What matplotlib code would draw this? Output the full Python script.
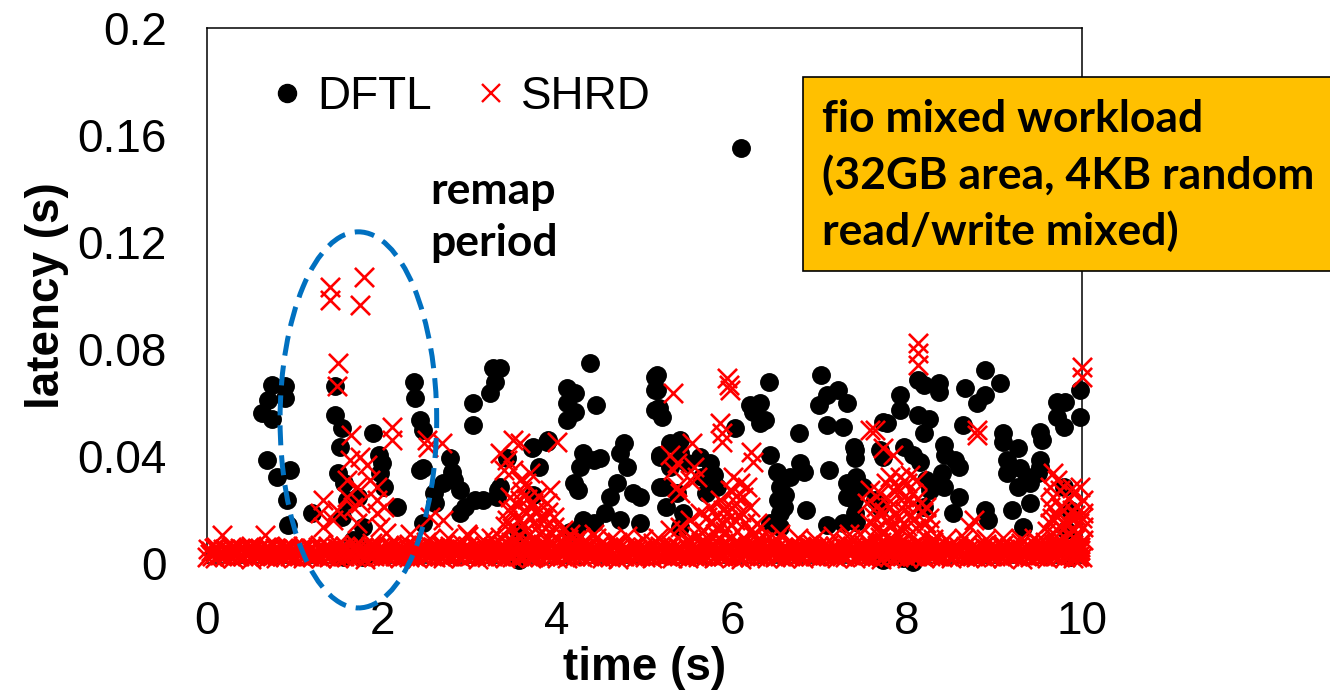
import matplotlib
matplotlib.use('Agg')
import matplotlib.pyplot as plt
from matplotlib.patches import Ellipse, Rectangle
from matplotlib.lines import Line2D

# ---------------- data ----------------
x_ticks = [0, 2, 4, 6, 8, 10]
x_tick_labels = ['0', '2', '4', '6', '8', '10']
y_ticks = [0, 0.04, 0.08, 0.12, 0.16, 0.2]
y_tick_labels = ['0', '0.04', '0.08', '0.12', '0.16', '0.2']

dftl_t = [
    0.74, 0.89, 0.70, 0.89, 0.63, 0.74, 0.68, 0.80, 0.95, 0.91, 0.93, 1.20,
    1.46, 1.46, 1.54, 1.52, 1.50, 1.56, 1.60, 1.90, 1.96, 2.00, 1.98, 2.02, 2.17, 1.54, 1.73, 1.78,
    1.67, 1.71, 1.71, 1.56, 1.78, 1.82, 2.36, 2.38, 2.43, 2.47, 2.43, 2.47, 2.47,
    2.78, 2.80, 2.82, 2.89, 3.06, 2.59, 2.61, 2.89, 2.70, 2.95, 3.15, 3.43, 3.33, 3.35, 3.31,
    3.27, 3.35, 3.29, 3.23, 3.04, 3.04, 3.55, 3.56, 3.56, 3.56,
    3.71, 3.73, 3.79, 3.88, 3.90, 3.73, 4.38, 4.11, 4.21, 4.11, 4.21, 4.11, 4.45,
    5.12, 5.12, 5.12, 4.30, 4.26, 4.42, 4.49, 4.76, 4.72, 4.80, 4.19, 4.24, 4.68,
    4.61, 4.87, 4.95, 5.18, 5.18, 4.30, 4.22, 4.42, 4.55, 4.72, 4.95, 4.15,
    5.14, 5.14, 5.16, 5.20, 6.42, 6.21, 6.32, 6.38, 6.24, 6.32, 6.03, 5.18, 5.29,
    5.41, 5.41, 5.29, 5.48, 5.21, 5.37, 5.25, 5.44, 5.63, 5.75, 5.79, 5.83, 5.66,
    5.70, 5.41, 6.43, 6.51, 6.55, 6.66, 6.78, 6.82, 6.53, 6.61, 6.59, 6.55, 6.85,
    6.43, 6.55, 6.10,
    7.02, 7.08, 7.21, 7.31, 6.99, 7.08, 7.27, 6.76, 7.73, 7.11, 7.41, 7.41, 7.39,
    7.31, 7.42, 7.50, 7.31, 7.42, 7.39, 7.40, 7.08, 7.27, 7.42, 7.69, 7.73,
    7.92, 7.92, 8.13, 8.19, 8.36, 8.36, 7.77, 8.13, 8.25, 8.19, 8.89, 8.66, 9.06,
    8.89, 8.80, 8.64, 7.96, 8.07, 8.15, 8.42, 8.43, 8.55, 8.59, 8.40, 8.42, 8.26,
    8.25, 8.22, 8.59, 8.53, 9.10, 9.10, 9.27, 9.14, 9.14, 9.29, 9.37, 9.27, 9.41,
    9.41, 9.20, 9.33, 8.89, 8.93, 9.52, 9.54, 9.52, 9.52, 9.50, 9.71, 9.81, 9.71,
    9.79, 9.98, 9.98, 9.79, 9.86, 9.82, 9.86, 8.19, 7.63, 7.69, 7.73, 8.07, 7.95,
]
dftl_lat = [
    0.0666, 0.0660, 0.0610, 0.0617, 0.0560, 0.0540, 0.0385, 0.0320, 0.0348, 0.0236, 0.0142, 0.0187,
    0.0660, 0.0553, 0.0505, 0.0435, 0.0336, 0.0300, 0.0236, 0.0486, 0.0404, 0.0374, 0.0336, 0.0285, 0.0210, 0.0173, 0.0247, 0.0135,
    0.0086, 0.0060, 0.0037, 0.0022, 0.0022, 0.0030, 0.0678, 0.0616, 0.0535, 0.0497, 0.0348, 0.0354, 0.0150,
    0.0391, 0.0341, 0.0310, 0.0273, 0.0236, 0.0260, 0.0223, 0.0186, 0.0298, 0.0210, 0.0236, 0.0391, 0.0273, 0.0285, 0.0248,
    0.0728, 0.0728, 0.0678, 0.0634, 0.0597, 0.0516, 0.0120, 0.0080, 0.0040, 0.0010,
    0.0429, 0.0435, 0.0360, 0.0454, 0.0460, 0.0254, 0.0747, 0.0653, 0.0634, 0.0597, 0.0566, 0.0535, 0.0590,
    0.0697, 0.0647, 0.0572, 0.0410, 0.0360, 0.0385, 0.0391, 0.0448, 0.0410, 0.0360, 0.0298, 0.0273, 0.0298,
    0.0248, 0.0260, 0.0248, 0.0397, 0.0285, 0.0161, 0.0123, 0.0148, 0.0186, 0.0161, 0.0148, 0.0117,
    0.0703, 0.0647, 0.0578, 0.0547, 0.0678, 0.0590, 0.0597, 0.0535, 0.0566, 0.0522, 0.0504, 0.0404, 0.0448,
    0.0460, 0.0410, 0.0360, 0.0373, 0.0285, 0.0260, 0.0210, 0.0186, 0.0397, 0.0373, 0.0330, 0.0285, 0.0323,
    0.0260, 0.0136, 0.0404, 0.0341, 0.0285, 0.0323, 0.0373, 0.0341, 0.0236, 0.0254, 0.0210, 0.0186, 0.0198,
    0.0148, 0.0136, 0.1550,
    0.0703, 0.0628, 0.0647, 0.0597, 0.0590, 0.0516, 0.0510, 0.0485, 0.0528, 0.0348, 0.0422, 0.0391, 0.0435,
    0.0298, 0.0323, 0.0285, 0.0248, 0.0260, 0.0236, 0.0186, 0.0142, 0.0148, 0.0154, 0.0422, 0.0397,
    0.0628, 0.0572, 0.0684, 0.0665, 0.0672, 0.0640, 0.0522, 0.0553, 0.0540, 0.0485, 0.0721, 0.0653, 0.0672,
    0.0628, 0.0597, 0.0516, 0.0435, 0.0404, 0.0379, 0.0441, 0.0404, 0.0385, 0.0360, 0.0335, 0.0285, 0.0273,
    0.0298, 0.0310, 0.0248, 0.0186, 0.0485, 0.0454, 0.0429, 0.0385, 0.0335, 0.0354, 0.0323, 0.0285, 0.0298,
    0.0223, 0.0198, 0.0136, 0.0198, 0.0161, 0.0491, 0.0460, 0.0385, 0.0360, 0.0335, 0.0603, 0.0603, 0.0547,
    0.0510, 0.0647, 0.0547, 0.0285, 0.0198, 0.0123, 0.0024, 0.0210, 0.0236, 0.0210, 0.0010, 0.0005, 0.0020,
]

# SHRD points above the dense bottom band
shrd_t = [
    1.41, 1.41, 1.79, 1.75, 1.50, 1.48, 1.65, 2.11, 2.11, 2.53, 1.63, 1.75, 1.83,
    1.60, 1.71, 1.86, 1.94, 1.33, 1.60, 1.75, 1.94, 1.29, 1.48, 1.67, 1.94, 2.02,
    1.33, 1.44, 1.71, 1.98, 2.05, 1.60, 0.17, 0.66, 2.32,
    2.68, 2.51, 2.55, 2.70, 2.97,
    3.50, 3.58, 4.00, 3.35, 3.43, 3.39, 3.50, 3.58, 3.69, 3.65, 3.92, 3.46, 3.58,
    3.73, 3.88, 3.50, 3.65, 3.81, 3.96, 3.43, 3.61, 3.77, 3.96, 4.07, 3.69, 3.88,
    4.15, 4.26, 4.42, 3.35, 3.73,
    5.33, 5.94, 5.96, 5.98, 5.86, 5.88, 5.88, 5.54, 6.22, 6.24, 5.29, 5.37, 5.33,
    5.57, 5.60, 5.52, 5.37, 5.41, 6.01, 6.09, 5.98, 6.17, 6.13, 5.86, 5.75, 5.90,
    6.05, 6.21, 6.28, 6.32, 5.63, 5.71, 5.52, 5.41, 5.29, 5.94, 6.09, 5.83, 6.40, 6.55,
    7.58, 7.73, 7.84, 7.81, 7.92, 8.03, 8.11, 7.58, 7.69, 7.84, 7.96, 8.07, 7.54,
    7.65, 7.81, 7.96, 8.11, 8.22, 7.62, 7.77, 7.92, 8.07, 8.22, 7.46, 7.69, 7.88,
    8.03, 8.26, 7.96, 8.03, 7.34, 8.13, 8.13, 8.13, 8.80, 8.80, 8.76, 8.72, 7.63,
    9.67, 9.71, 9.63, 9.75, 9.67, 9.63, 9.75, 9.71, 9.63, 9.98, 9.90, 10.01, 9.94,
    10.01, 9.90, 10.01, 9.94, 10.01, 9.90, 9.98, 9.94, 9.79, 9.79, 9.82, 10.00, 10.00,
]
shrd_lat = [
    0.1033, 0.0983, 0.1068, 0.0964, 0.0747, 0.0660, 0.0478, 0.0510, 0.0460, 0.0435, 0.0385, 0.0397, 0.0366,
    0.0310, 0.0285, 0.0310, 0.0285, 0.0236, 0.0248, 0.0223, 0.0236, 0.0186, 0.0198, 0.0210, 0.0186, 0.0210,
    0.0136, 0.0161, 0.0148, 0.0136, 0.0111, 0.0036, 0.0105, 0.0105, 0.0110,
    0.0448, 0.0460, 0.0173, 0.0161, 0.0110,
    0.0460, 0.0448, 0.0454, 0.0410, 0.0385, 0.0348, 0.0348, 0.0310, 0.0335, 0.0298, 0.0273, 0.0248, 0.0236,
    0.0223, 0.0223, 0.0198, 0.0186, 0.0173, 0.0173, 0.0161, 0.0148, 0.0136, 0.0136, 0.0123, 0.0110, 0.0098,
    0.0110, 0.0098, 0.0110, 0.0098, 0.0024,
    0.0634, 0.0690, 0.0665, 0.0647, 0.0522, 0.0485, 0.0454, 0.0448, 0.0416, 0.0379, 0.0404, 0.0373, 0.0348,
    0.0360, 0.0323, 0.0310, 0.0285, 0.0260, 0.0323, 0.0298, 0.0273, 0.0285, 0.0248, 0.0236, 0.0210, 0.0198,
    0.0223, 0.0210, 0.0149, 0.0136, 0.0186, 0.0173, 0.0161, 0.0136, 0.0123, 0.0161, 0.0173, 0.0136, 0.0086, 0.0110,
    0.0497, 0.0429, 0.0404, 0.0323, 0.0323, 0.0329, 0.0310, 0.0273, 0.0260, 0.0273, 0.0248, 0.0260, 0.0223,
    0.0210, 0.0210, 0.0198, 0.0210, 0.0210, 0.0173, 0.0161, 0.0161, 0.0161, 0.0148, 0.0110, 0.0098, 0.0110,
    0.0110, 0.0123, 0.0049, 0.0036, 0.0110, 0.0821, 0.0784, 0.0740, 0.0497, 0.0478, 0.0161, 0.0136, 0.0497,
    0.0335, 0.0310, 0.0285, 0.0273, 0.0248, 0.0210, 0.0210, 0.0173, 0.0148, 0.0285, 0.0260, 0.0236, 0.0210,
    0.0186, 0.0161, 0.0136, 0.0110, 0.0086, 0.0061, 0.0049, 0.0024, 0.0148, 0.0098, 0.0061, 0.0734, 0.0697,
]

# SHRD points filling the dense clusters just above the band
cluster_t = [
    3.48, 3.55, 3.62, 3.70, 3.76, 3.84, 3.90, 3.55, 3.63, 3.72, 3.80, 3.86, 3.93, 4.00, 4.05,
    4.12, 4.20, 4.33, 3.66, 3.60, 3.78, 3.52, 3.44, 3.40, 3.47, 3.58, 3.68, 3.84, 3.98,
    5.60, 5.68, 5.76, 5.82, 5.88, 5.95, 6.00, 6.03, 6.10, 6.15, 6.20, 6.25, 5.72, 5.80, 5.92,
    6.06, 6.14, 6.30, 5.50, 5.86, 5.98, 6.05, 6.00, 5.65, 6.35,
    7.58, 7.66, 7.74, 7.80, 7.86, 7.90, 7.98, 8.05, 8.12, 8.18, 8.25, 7.62, 7.72, 7.82, 7.92,
    8.00, 8.10, 8.20, 8.30, 7.55, 7.86, 8.15, 7.76, 8.00, 7.70, 8.05,
    9.60, 9.66, 9.70, 9.74, 9.85, 9.88, 9.92, 9.96, 10.00, 9.86, 9.92, 9.98, 9.58, 9.68, 9.84,
    9.88, 9.78,
    2.55, 2.75, 2.98, 3.15, 3.25, 4.45, 4.62, 4.80, 4.98, 5.15, 6.50, 6.75, 6.95, 7.15, 7.35,
    8.45, 8.65, 8.90, 9.10, 9.30, 9.45,
]
cluster_lat = [
    0.0130, 0.0160, 0.0200, 0.0170, 0.0200, 0.0160, 0.0190, 0.0100, 0.0120, 0.0090, 0.0110, 0.0130, 0.0110, 0.0090, 0.0080,
    0.0090, 0.0085, 0.0080, 0.0240, 0.0270, 0.0250, 0.0225, 0.0200, 0.0140, 0.0080, 0.0070, 0.0065, 0.0070, 0.0065,
    0.0100, 0.0120, 0.0150, 0.0175, 0.0150, 0.0190, 0.0205, 0.0160, 0.0190, 0.0150, 0.0120, 0.0100, 0.0090, 0.0110, 0.0120,
    0.0120, 0.0090, 0.0090, 0.0090, 0.0090, 0.0090, 0.0250, 0.0270, 0.0080, 0.0080,
    0.0150, 0.0130, 0.0190, 0.0230, 0.0180, 0.0280, 0.0220, 0.0180, 0.0240, 0.0190, 0.0170, 0.0090, 0.0120, 0.0140, 0.0130,
    0.0140, 0.0130, 0.0100, 0.0090, 0.0080, 0.0080, 0.0070, 0.0300, 0.0300, 0.0060, 0.0060,
    0.0120, 0.0170, 0.0100, 0.0140, 0.0240, 0.0200, 0.0180, 0.0150, 0.0170, 0.0110, 0.0090, 0.0070, 0.0080, 0.0070, 0.0150,
    0.0280, 0.0200,
    0.0090, 0.0095, 0.0100, 0.0085, 0.0095, 0.0095, 0.0090, 0.0100, 0.0090, 0.0095, 0.0090, 0.0095, 0.0090, 0.0100, 0.0090,
    0.0090, 0.0095, 0.0090, 0.0095, 0.0090, 0.0095,
]

# SHRD dense band near zero latency (overlapping rows)
band_a_t = [
    0.00, 0.09, 0.21, 0.30, 0.41, 0.50, 0.61, 0.70, 0.79, 0.90, 1.01, 1.10, 1.21, 1.30, 1.39, 1.50, 1.61,
    1.70, 1.80, 1.91, 2.00, 2.09, 2.20, 2.31, 2.40, 2.50, 2.61, 2.70, 2.79, 2.90, 3.01, 3.10, 3.20, 3.31,
    3.40, 3.49, 3.60, 3.70, 3.81, 3.90, 4.00, 4.11, 4.20, 4.29, 4.40, 4.51, 4.60, 4.70, 4.81, 4.90, 5.00,
    5.09, 5.20, 5.31, 5.40, 5.50, 5.61, 5.70, 5.79, 5.90, 6.01, 6.10, 6.20, 6.31, 6.40, 6.49, 6.60, 6.70,
    6.81, 6.90, 7.00, 7.11, 7.20, 7.29, 7.40, 7.51, 7.60, 7.70, 7.81, 7.90, 8.00, 8.09, 8.20, 8.31, 8.40,
    8.50, 8.61, 8.70, 8.79, 8.90, 9.01, 9.10, 9.20, 9.31, 9.40, 9.49, 9.60, 9.70, 9.81, 9.90, 10.00,
]
band_a_lat = [
    0.0022, 0.0018, 0.0027, 0.0020, 0.0025, 0.0016, 0.0029, 0.0021, 0.0019, 0.0026,
    0.0023, 0.0017, 0.0028, 0.0020, 0.0024, 0.0018, 0.0027, 0.0022, 0.0016, 0.0025,
    0.0021, 0.0029, 0.0019, 0.0024, 0.0017, 0.0026, 0.0022, 0.0018, 0.0028, 0.0020,
    0.0025, 0.0016, 0.0023, 0.0027, 0.0019, 0.0021, 0.0026, 0.0018, 0.0024, 0.0029,
    0.0020, 0.0017, 0.0025, 0.0022, 0.0028, 0.0019, 0.0023, 0.0016, 0.0027, 0.0021,
    0.0024, 0.0018, 0.0026, 0.0020, 0.0029, 0.0017, 0.0022, 0.0025, 0.0019, 0.0027,
    0.0021, 0.0016, 0.0024, 0.0028, 0.0018, 0.0023, 0.0020, 0.0026, 0.0017, 0.0025,
    0.0022, 0.0029, 0.0019, 0.0024, 0.0018, 0.0027, 0.0021, 0.0016, 0.0026, 0.0023,
    0.0020, 0.0028, 0.0017, 0.0025, 0.0022, 0.0019, 0.0027, 0.0021, 0.0024, 0.0018,
    0.0026, 0.0020, 0.0029, 0.0016, 0.0023, 0.0025, 0.0019, 0.0027, 0.0021, 0.0018,
    0.0024,
]
band_b_t = [
    0.05, 0.16, 0.25, 0.34, 0.45, 0.56, 0.65, 0.74, 0.85, 0.96, 1.05, 1.14, 1.25, 1.36, 1.45, 1.54, 1.65,
    1.76, 1.85, 1.94, 2.05, 2.16, 2.25, 2.34, 2.45, 2.56, 2.65, 2.74, 2.85, 2.96, 3.05, 3.14, 3.25, 3.36,
    3.45, 3.54, 3.65, 3.76, 3.85, 3.94, 4.05, 4.16, 4.25, 4.34, 4.45, 4.56, 4.65, 4.74, 4.85, 4.96, 5.05,
    5.14, 5.25, 5.36, 5.45, 5.54, 5.65, 5.76, 5.85, 5.94, 6.05, 6.16, 6.25, 6.34, 6.45, 6.56, 6.65, 6.74,
    6.85, 6.96, 7.05, 7.14, 7.25, 7.36, 7.45, 7.54, 7.65, 7.76, 7.85, 7.94, 8.05, 8.16, 8.25, 8.34, 8.45,
    8.56, 8.65, 8.74, 8.85, 8.96, 9.05, 9.14, 9.25, 9.36, 9.45, 9.54, 9.65, 9.76, 9.85, 9.96,
]
band_b_lat = [
    0.0044, 0.0040, 0.0049, 0.0042, 0.0047, 0.0039, 0.0051, 0.0043, 0.0046, 0.0041,
    0.0048, 0.0038, 0.0045, 0.0050, 0.0042, 0.0047, 0.0040, 0.0044, 0.0052, 0.0041,
    0.0046, 0.0039, 0.0049, 0.0043, 0.0045, 0.0040, 0.0048, 0.0042, 0.0051, 0.0044,
    0.0038, 0.0047, 0.0043, 0.0050, 0.0041, 0.0046, 0.0039, 0.0049, 0.0044, 0.0042,
    0.0048, 0.0040, 0.0045, 0.0051, 0.0043, 0.0047, 0.0039, 0.0046, 0.0042, 0.0050,
    0.0044, 0.0041, 0.0048, 0.0038, 0.0045, 0.0049, 0.0043, 0.0047, 0.0040, 0.0052,
    0.0042, 0.0046, 0.0039, 0.0048, 0.0044, 0.0041, 0.0050, 0.0043, 0.0047, 0.0040,
    0.0045, 0.0049, 0.0042, 0.0046, 0.0038, 0.0051, 0.0044, 0.0041, 0.0048, 0.0043,
    0.0047, 0.0040, 0.0045, 0.0050, 0.0042, 0.0046, 0.0039, 0.0049, 0.0044, 0.0041,
    0.0048, 0.0043, 0.0052, 0.0040, 0.0045, 0.0047, 0.0042, 0.0050, 0.0044, 0.0046,
]
band_c_t = [
    0.10, 0.31, 0.50, 0.70, 0.91, 1.10, 1.29, 1.50, 1.70, 1.89, 2.10, 2.31, 2.50, 2.70, 2.90, 3.10, 3.29,
    3.50, 3.70, 3.91, 4.10, 4.30, 4.50, 4.69, 4.90, 5.10, 5.30, 5.50, 5.71, 5.90, 6.10, 6.30, 6.49, 6.70,
    6.90, 7.10, 7.30, 7.50, 7.70, 7.89, 8.10, 8.30, 8.50, 8.70, 8.90, 9.10, 9.30, 9.51, 9.70, 9.90,
]
band_c_lat = [
    0.0060, 0.0058, 0.0063, 0.0059, 0.0062, 0.0064, 0.0066, 0.0071, 0.0068, 0.0074,
    0.0065, 0.0072, 0.0078, 0.0069, 0.0075, 0.0067, 0.0073, 0.0079, 0.0070, 0.0076,
    0.0068, 0.0080, 0.0072, 0.0077, 0.0066, 0.0074, 0.0069, 0.0078, 0.0071, 0.0075,
    0.0067, 0.0079, 0.0073, 0.0070, 0.0076, 0.0068, 0.0074, 0.0071, 0.0077, 0.0066,
    0.0073, 0.0078, 0.0069, 0.0075, 0.0072, 0.0068, 0.0076, 0.0070, 0.0074, 0.0067,
]
band_d_t = [
    0.03, 0.12, 0.23, 0.32, 0.43, 0.52, 0.63, 0.72, 0.83, 0.92, 1.03, 1.12, 1.23, 1.32, 1.43, 1.52, 1.63,
    1.72, 1.83, 1.92, 2.03, 2.12, 2.23, 2.32, 2.43, 2.52, 2.63, 2.72, 2.83, 2.92, 3.03, 3.12, 3.23, 3.32,
    3.43, 3.52, 3.63, 3.72, 3.83, 3.92, 4.03, 4.12, 4.23, 4.32, 4.43, 4.52, 4.63, 4.72, 4.83, 4.92, 5.03,
    5.12, 5.23, 5.32, 5.43, 5.52, 5.63, 5.72, 5.83, 5.92, 6.03, 6.12, 6.23, 6.32, 6.43, 6.52, 6.63, 6.72,
    6.83, 6.92, 7.03, 7.12, 7.23, 7.32, 7.43, 7.52, 7.63, 7.72, 7.83, 7.92, 8.03, 8.12, 8.23, 8.32, 8.43,
    8.52, 8.63, 8.72, 8.83, 8.92, 9.03, 9.12, 9.23, 9.32, 9.43, 9.52, 9.63, 9.72, 9.83, 9.92,
]
band_d_lat = [
    0.0033, 0.0031, 0.0036, 0.0032, 0.0034, 0.0030, 0.0035, 0.0033, 0.0031, 0.0037,
    0.0032, 0.0034, 0.0030, 0.0036, 0.0033, 0.0031, 0.0035, 0.0032, 0.0034, 0.0037,
    0.0030, 0.0033, 0.0036, 0.0031, 0.0034, 0.0032, 0.0035, 0.0030, 0.0033, 0.0036,
    0.0031, 0.0034, 0.0032, 0.0037, 0.0030, 0.0035, 0.0033, 0.0031, 0.0036, 0.0032,
    0.0034, 0.0030, 0.0035, 0.0033, 0.0037, 0.0031, 0.0034, 0.0032, 0.0036, 0.0030,
    0.0033, 0.0035, 0.0031, 0.0034, 0.0032, 0.0037, 0.0030, 0.0036, 0.0033, 0.0031,
    0.0035, 0.0032, 0.0034, 0.0030, 0.0036, 0.0033, 0.0031, 0.0037, 0.0032, 0.0034,
    0.0030, 0.0035, 0.0033, 0.0036, 0.0031, 0.0034, 0.0032, 0.0030, 0.0037, 0.0033,
    0.0035, 0.0031, 0.0034, 0.0032, 0.0036, 0.0030, 0.0033, 0.0035, 0.0031, 0.0034,
    0.0032, 0.0037, 0.0030, 0.0036, 0.0033, 0.0031, 0.0035, 0.0032, 0.0034, 0.0030,
]
band_e_t = [
    0.08, 0.18, 0.27, 0.38, 0.47, 0.58, 0.67, 0.78, 0.87, 0.98, 1.07, 1.18, 1.27, 1.38, 1.47, 1.58, 1.67,
    1.78, 1.87, 1.98, 2.07, 2.18, 2.27, 2.38, 2.47, 2.58, 2.67, 2.78, 2.87, 2.98, 3.07, 3.18, 3.27, 3.38,
    3.47, 3.58, 3.67, 3.78, 3.87, 3.98, 4.07, 4.18, 4.27, 4.38, 4.47, 4.58, 4.67, 4.78, 4.87, 4.98, 5.07,
    5.18, 5.27, 5.38, 5.47, 5.58, 5.67, 5.78, 5.87, 5.98, 6.07, 6.18, 6.27, 6.38, 6.47, 6.58, 6.67, 6.78,
    6.87, 6.98, 7.07, 7.18, 7.27, 7.38, 7.47, 7.58, 7.67, 7.78, 7.87, 7.98, 8.07, 8.18, 8.27, 8.38, 8.47,
    8.58, 8.67, 8.78, 8.87, 8.98, 9.07, 9.18, 9.27, 9.38, 9.47, 9.58, 9.67, 9.78, 9.87, 9.98,
]
band_e_lat = [
    0.0056, 0.0054, 0.0058, 0.0055, 0.0057, 0.0054, 0.0058, 0.0056, 0.0055, 0.0057,
    0.0054, 0.0056, 0.0060, 0.0063, 0.0058, 0.0065, 0.0061, 0.0059, 0.0064, 0.0060,
    0.0062, 0.0058, 0.0066, 0.0061, 0.0063, 0.0059, 0.0065, 0.0062, 0.0060, 0.0064,
    0.0058, 0.0063, 0.0061, 0.0066, 0.0059, 0.0062, 0.0065, 0.0060, 0.0063, 0.0058,
    0.0064, 0.0061, 0.0059, 0.0066, 0.0062, 0.0060, 0.0065, 0.0058, 0.0063, 0.0061,
    0.0059, 0.0064, 0.0062, 0.0060, 0.0066, 0.0058, 0.0063, 0.0061, 0.0065, 0.0059,
    0.0062, 0.0064, 0.0060, 0.0058, 0.0065, 0.0061, 0.0063, 0.0059, 0.0066, 0.0062,
    0.0060, 0.0064, 0.0058, 0.0063, 0.0061, 0.0065, 0.0059, 0.0062, 0.0060, 0.0066,
    0.0058, 0.0063, 0.0061, 0.0064, 0.0059, 0.0062, 0.0065, 0.0060, 0.0063, 0.0058,
    0.0064, 0.0061, 0.0059, 0.0066, 0.0062, 0.0060, 0.0063, 0.0058, 0.0065, 0.0061,
]
band_f_t = [
    0.06, 0.15, 0.26, 0.36, 0.46, 0.55, 0.66, 0.76, 0.86, 0.95, 1.06, 1.16, 1.26, 1.35, 1.46, 1.56, 1.66,
    1.75, 1.86, 1.96, 2.06, 2.15, 2.26, 2.36, 2.46, 2.55, 2.66, 2.76, 2.86, 2.95, 3.06, 3.16, 3.26, 3.35,
    3.46, 3.56, 3.66, 3.75, 3.86, 3.96, 4.06, 4.15, 4.26, 4.36, 4.46, 4.55, 4.66, 4.76, 4.86, 4.95, 5.06,
    5.16, 5.26, 5.35, 5.46, 5.56, 5.66, 5.75, 5.86, 5.96, 6.06, 6.15, 6.26, 6.36, 6.46, 6.55, 6.66, 6.76,
    6.86, 6.95, 7.06, 7.16, 7.26, 7.35, 7.46, 7.56, 7.66, 7.75, 7.86, 7.96, 8.06, 8.15, 8.26, 8.36, 8.46,
    8.55, 8.66, 8.76, 8.86, 8.95, 9.06, 9.16, 9.26, 9.35, 9.46, 9.56, 9.66, 9.75, 9.86, 9.96,
]
band_f_lat = [
    0.0027, 0.0029, 0.0026, 0.0028, 0.0030, 0.0027, 0.0026, 0.0029, 0.0028, 0.0026,
    0.0030, 0.0027, 0.0029, 0.0026, 0.0028, 0.0027, 0.0030, 0.0026, 0.0029, 0.0028,
    0.0027, 0.0026, 0.0030, 0.0028, 0.0027, 0.0029, 0.0026, 0.0028, 0.0030, 0.0027,
    0.0029, 0.0026, 0.0028, 0.0027, 0.0030, 0.0026, 0.0029, 0.0028, 0.0027, 0.0030,
    0.0026, 0.0028, 0.0029, 0.0027, 0.0026, 0.0030, 0.0028, 0.0027, 0.0029, 0.0026,
    0.0028, 0.0030, 0.0027, 0.0029, 0.0026, 0.0028, 0.0027, 0.0030, 0.0026, 0.0029,
    0.0027, 0.0028, 0.0026, 0.0030, 0.0029, 0.0027, 0.0028, 0.0026, 0.0030, 0.0027,
    0.0029, 0.0026, 0.0028, 0.0030, 0.0027, 0.0029, 0.0026, 0.0028, 0.0027, 0.0030,
    0.0026, 0.0029, 0.0028, 0.0027, 0.0030, 0.0026, 0.0028, 0.0029, 0.0027, 0.0026,
    0.0030, 0.0028, 0.0027, 0.0029, 0.0026, 0.0028, 0.0030, 0.0027, 0.0029, 0.0026,
]
band_g_t = [
    0.01, 0.11, 0.20, 0.31, 0.40, 0.51, 0.60, 0.71, 0.80, 0.91, 1.00, 1.11, 1.20, 1.31, 1.40, 1.51, 1.60,
    1.71, 1.80, 1.91, 2.00, 2.11, 2.20, 2.31, 2.40, 2.51, 2.60, 2.71, 2.80, 2.91, 3.00, 3.11, 3.20, 3.31,
    3.40, 3.51, 3.60, 3.71, 3.80, 3.91, 4.00, 4.11, 4.20, 4.31, 4.40, 4.51, 4.60, 4.71, 4.80, 4.91, 5.00,
    5.11, 5.20, 5.31, 5.40, 5.51, 5.60, 5.71, 5.80, 5.91, 6.00, 6.11, 6.20, 6.31, 6.40, 6.51, 6.60, 6.71,
    6.80, 6.91, 7.00, 7.11, 7.20, 7.31, 7.40, 7.51, 7.60, 7.71, 7.80, 7.91, 8.00, 8.11, 8.20, 8.31, 8.40,
    8.51, 8.60, 8.71, 8.80, 8.91, 9.00, 9.11, 9.20, 9.31, 9.40, 9.51, 9.60, 9.71, 9.80, 9.91,
]
band_g_lat = [
    0.0052, 0.0050, 0.0054, 0.0051, 0.0053, 0.0050, 0.0055, 0.0052, 0.0051, 0.0054,
    0.0050, 0.0053, 0.0056, 0.0052, 0.0054, 0.0051, 0.0055, 0.0053, 0.0050, 0.0056,
    0.0052, 0.0054, 0.0051, 0.0055, 0.0053, 0.0050, 0.0056, 0.0052, 0.0054, 0.0051,
    0.0053, 0.0055, 0.0050, 0.0052, 0.0056, 0.0051, 0.0054, 0.0053, 0.0050, 0.0055,
    0.0052, 0.0051, 0.0054, 0.0056, 0.0053, 0.0050, 0.0052, 0.0055, 0.0051, 0.0054,
    0.0053, 0.0050, 0.0056, 0.0052, 0.0054, 0.0051, 0.0055, 0.0053, 0.0050, 0.0052,
    0.0056, 0.0051, 0.0054, 0.0053, 0.0050, 0.0055, 0.0052, 0.0054, 0.0051, 0.0056,
    0.0053, 0.0050, 0.0052, 0.0055, 0.0051, 0.0054, 0.0053, 0.0056, 0.0050, 0.0052,
    0.0054, 0.0051, 0.0055, 0.0053, 0.0050, 0.0056, 0.0052, 0.0054, 0.0051, 0.0053,
    0.0055, 0.0050, 0.0052, 0.0054, 0.0056, 0.0051, 0.0053, 0.0050, 0.0055, 0.0052,
]

series_names = ['DFTL', 'SHRD']
note_text = 'fio mixed workload\n(32GB area, 4KB random\nread/write mixed)'
remap_text = 'remap\nperiod'

# ---------------- figure ----------------
W, H = 1330, 692
fig = plt.figure(figsize=(W / 100, H / 100), dpi=100)
ax = fig.add_axes([207 / W, 1 - 563 / H, 875 / W, 535 / H])

num_font = 'Liberation Sans'
note_font = 'Lato'
red = '#FF0000'
x_size = 190
x_lw = 1.9

ax.scatter(dftl_t, dftl_lat, s=185, c='black', marker='o', linewidths=0,
           clip_on=False, zorder=3)
shrd_all_t = (band_a_t + band_f_t + band_d_t + band_b_t + band_g_t + band_e_t
              + band_c_t + cluster_t + shrd_t)
shrd_all_lat = (band_a_lat + band_f_lat + band_d_lat + band_b_lat + band_g_lat
                + band_e_lat + band_c_lat + cluster_lat + shrd_lat)
ax.scatter(shrd_all_t, shrd_all_lat, s=x_size, c=red, marker='x',
           linewidths=x_lw, clip_on=False, zorder=4)

ax.set_xlim(0, 10)
ax.set_ylim(0, 0.2)
ax.set_xticks(x_ticks)
ax.set_xticklabels(x_tick_labels, fontfamily=num_font, fontsize=33)
ax.set_yticks(y_ticks)
ax.set_yticklabels(y_tick_labels, fontfamily=num_font, fontsize=33)
ax.tick_params(axis='both', length=0)
ax.tick_params(axis='y', pad=29)
ax.tick_params(axis='x', pad=27)
for sp in ax.spines.values():
    sp.set_linewidth(1.1)
    sp.set_color('black')

ax.set_xlabel('time (s)', fontfamily=num_font, fontsize=33, fontweight='bold')
ax.set_ylabel('latency (s)', fontfamily=num_font, fontsize=33, fontweight='bold')
ax.xaxis.set_label_coords(0.5, -0.155)
ax.yaxis.set_label_coords(-0.158, 0.5)

handles = [
    Line2D([], [], linestyle='none', marker='o', markersize=13,
           markerfacecolor='black', markeredgecolor='black'),
    Line2D([], [], linestyle='none', marker='x', markersize=13.5,
           markeredgewidth=1.7, color=red),
]
leg = ax.legend(handles, series_names, loc='center left',
                bbox_to_anchor=(0.071, 0.871), ncol=2, frameon=False,
                borderpad=0, borderaxespad=0, handlelength=0.8,
                handletextpad=0.25, columnspacing=0.9,
                prop={'family': num_font, 'size': 33})

ell = Ellipse((1.73, 0.0535), width=1.79, height=0.1406, fill=False,
              edgecolor='#0070C0', linewidth=3.6, linestyle=(0, (4, 2)),
              clip_on=False, zorder=6)
ax.add_patch(ell)

ax.text(2.55, 0.1293, remap_text, fontfamily=note_font, fontweight='bold',
        fontsize=32, ha='left', va='center', linespacing=1.38, zorder=7)

box = Rectangle((803 / W, 1 - 271 / H), 0.45, 194 / H, transform=fig.transFigure,
                facecolor='#FFC000', edgecolor='black', linewidth=1.2, zorder=10)
fig.patches.append(box)
fig.text(822 / W, 1 - 176 / H, note_text, fontfamily=note_font, fontweight='bold',
         fontsize=32, ha='left', va='center', linespacing=1.43, zorder=11)

fig.savefig('out.png', dpi=100)
